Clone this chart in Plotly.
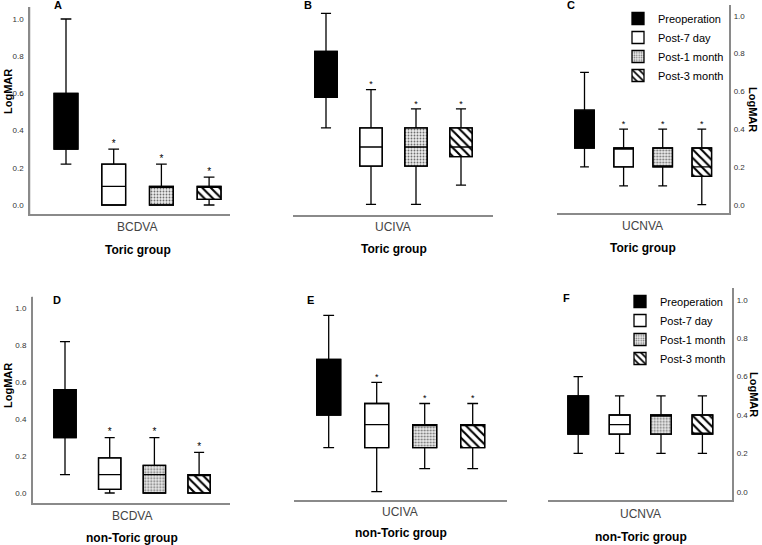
import plotly.graph_objects as go

W, H = 762, 545

# ---------------- data ----------------
series = ["Preoperation", "Post-7 day", "Post-1 month", "Post-3 month"]
panel_letters = ["A", "B", "C", "D", "E", "F"]
measures = ["BCDVA", "UCIVA", "UCNVA", "BCDVA", "UCIVA", "UCNVA"]
groups = ["Toric group", "Toric group", "Toric group",
          "non-Toric group", "non-Toric group", "non-Toric group"]
y_ticks = [0.0, 0.2, 0.4, 0.6, 0.8, 1.0]
y_tick_labels = ["0.0", "0.2", "0.4", "0.6", "0.8", "1.0"]

# A: Toric BCDVA
a_low = [0.22, 0.00, 0.00, 0.00]
a_q1 = [0.30, 0.00, 0.00, 0.03]
a_med = [0.45, 0.10, 0.10, 0.10]
a_q3 = [0.60, 0.22, 0.10, 0.10]
a_high = [1.00, 0.30, 0.22, 0.15]
a_star = [False, True, True, True]

# B: Toric UCIVA
b_low = [0.40, 0.00, 0.00, 0.10]
b_q1 = [0.56, 0.20, 0.20, 0.25]
b_med = [0.70, 0.30, 0.30, 0.30]
b_q3 = [0.80, 0.40, 0.40, 0.40]
b_high = [1.00, 0.60, 0.50, 0.50]
b_star = [False, True, True, True]

# C: Toric UCNVA
c_low = [0.20, 0.10, 0.10, 0.00]
c_q1 = [0.30, 0.20, 0.20, 0.15]
c_med = [0.40, 0.30, 0.20, 0.20]
c_q3 = [0.50, 0.30, 0.30, 0.30]
c_high = [0.70, 0.40, 0.40, 0.40]
c_star = [False, True, True, True]

# D: non-Toric BCDVA
d_low = [0.10, 0.00, 0.00, 0.00]
d_q1 = [0.30, 0.02, 0.00, 0.00]
d_med = [0.45, 0.10, 0.10, 0.10]
d_q3 = [0.56, 0.19, 0.15, 0.10]
d_high = [0.82, 0.30, 0.30, 0.22]
d_star = [False, True, True, True]

# E: non-Toric UCIVA
e_low = [0.23, 0.00, 0.12, 0.12]
e_q1 = [0.40, 0.23, 0.23, 0.23]
e_med = [0.55, 0.35, 0.35, 0.35]
e_q3 = [0.69, 0.46, 0.35, 0.35]
e_high = [0.92, 0.57, 0.46, 0.46]
e_star = [False, True, True, True]

# F: non-Toric UCNVA
f_low = [0.20, 0.20, 0.20, 0.20]
f_q1 = [0.30, 0.30, 0.30, 0.30]
f_med = [0.40, 0.35, 0.40, 0.30]
f_q3 = [0.50, 0.40, 0.40, 0.40]
f_high = [0.60, 0.50, 0.50, 0.50]
f_star = [False, False, False, False]

stats = [
    (a_low, a_q1, a_med, a_q3, a_high, a_star),
    (b_low, b_q1, b_med, b_q3, b_high, b_star),
    (c_low, c_q1, c_med, c_q3, c_high, c_star),
    (d_low, d_q1, d_med, d_q3, d_high, d_star),
    (e_low, e_q1, e_med, e_q3, e_high, e_star),
    (f_low, f_q1, f_med, f_q3, f_high, f_star),
]

# ---------------- styling / geometry (pixels) ----------------
FONT = "Arial, 'Liberation Sans', sans-serif"
NARROW = "'Liberation Sans Narrow', 'Arial Narrow', Arial, 'Liberation Sans', sans-serif"
AXIS_COLOR = "#8a8a8a"

fills = ["black", "white", "#ececec", "white"]
patterns = [
    None,
    None,
    dict(shape=".", fgcolor="#6e6e6e", bgcolor="#ececec", size=3, solidity=0.3),
    dict(shape="\\", fgcolor="black", bgcolor="white", size=6, solidity=0.35),
]

# xl/xr: x-axis line ends, c0: first box centre, dx: box spacing,
# yb/yt: plot bottom/top, y0/y1: pixel rows of LogMAR 0 and 1
geom = [
    dict(xl=30, xr=230, c0=66, dx=47.7, yb=214, yt=7, y0=205, y1=19, side="left"),
    dict(xl=293, xr=493, c0=326, dx=45, yb=215, yt=5, y0=204.3, y1=13.3, side=None),
    dict(xl=556.7, xr=729.3, c0=584.5, dx=39.1, yb=213, yt=5, y0=204.7, y1=15.7, side="right"),
    dict(xl=32.7, xr=230, c0=65, dx=44.7, yb=503.3, yt=296.7, y0=493, y1=308.3, side="left"),
    dict(xl=294.3, xr=506.7, c0=328.7, dx=48, yb=500, yt=288, y0=491.7, y1=300, side=None),
    dict(xl=548.3, xr=732.3, c0=578.2, dx=41.4, yb=500, yt=288.3, y0=491.7, y1=300, side="right"),
]

letter_pos = [(58, 5), (308, 5), (571, 5), (57, 300), (310, 300), (566, 298)]
measure_pos = [(137, 227), (393, 227), (642, 226), (132, 516), (400, 512), (640, 514)]
group_pos = [(138, 250), (394, 249), (643, 248), (132, 538), (401, 533), (641, 537)]
ytitle_pos = [(8, 92, -90), None, (753, 109, 90), (8, 386, -90), None, (754, 394, 90)]


def px(x):
    return x / W


def py(y):
    return 1 - y / H


def label(text, x, y, size, color="black", angle=0):
    return dict(text=text, x=px(x), y=py(y), xref="paper", yref="paper",
                xanchor="center", yanchor="middle", showarrow=False,
                textangle=angle, font=dict(size=size, color=color, family=FONT))


fig = go.Figure()
layout_axes = {}
annotations = []
shapes = []

for i, (low, q1, med, q3, high, star) in enumerate(stats):
    g = geom[i]
    suffix = "" if i == 0 else str(i + 1)
    xn, yn = "x" + suffix, "y" + suffix
    pu = g["y0"] - g["y1"]
    xr = [(g["xl"] - g["c0"]) / g["dx"], (g["xr"] - g["c0"]) / g["dx"]]
    yr = [-(g["yb"] - g["y0"]) / pu, 1 + (g["y1"] - g["yt"]) / pu]

    layout_axes["xaxis" + suffix] = dict(
        domain=[px(g["xl"]), px(g["xr"])], range=xr, anchor=yn,
        showline=True, linecolor=AXIS_COLOR, linewidth=1.5,
        showticklabels=False, ticks="", showgrid=False, zeroline=False,
        fixedrange=True,
    )
    yax = dict(
        domain=[py(g["yb"]), py(g["yt"])], range=yr, anchor=xn,
        showgrid=False, zeroline=False, fixedrange=True, ticks="",
    )
    if g["side"] is None:
        yax.update(showline=False, showticklabels=False)
    else:
        yax.update(side=g["side"], showline=True, linecolor=AXIS_COLOR, linewidth=1.5,
                   tickvals=y_ticks, ticktext=y_tick_labels,
                   tickfont=dict(size=8, color="#333333", family=FONT),
                   ticklabelstandoff=3 if g["side"] == "left" else 1)
        if g["side"] == "left":
            # vertical axis line along the left edge of the plot area (paper-referenced)
            shapes.append(dict(type="line", xref="paper", yref="paper",
                               x0=px(g["xl"] - 0.5), x1=px(g["xl"] - 0.5),
                               y0=py(g["yb"] + 0.75), y1=py(g["yt"]), layer="above",
                               line=dict(color=AXIS_COLOR, width=1.5)))
    layout_axes["yaxis" + suffix] = yax

    # box bodies (bars carry the fill patterns and the legend swatches)
    for j in range(4):
        marker = dict(color=fills[j], line=dict(color="black", width=1.3))
        if patterns[j] is not None:
            marker["pattern"] = patterns[j]
        fig.add_trace(go.Bar(
            x=[j], base=[q1[j]], y=[q3[j] - q1[j]], width=0.5,
            marker=marker, name=series[j],
            xaxis=xn, yaxis=yn,
            showlegend=(i in (2, 5)),
            legend="legend" if i < 3 else "legend2",
            hoverinfo="skip",
        ))
    # whiskers, caps and medians
    for j in range(4):
        fig.add_trace(go.Box(
            x=[j], q1=[q1[j]], median=[med[j]], q3=[q3[j]],
            lowerfence=[low[j]], upperfence=[high[j]],
            width=0.5, whiskerwidth=0.45,
            fillcolor="rgba(0,0,0,0)", line=dict(color="black", width=1.3),
            boxpoints=False, showlegend=False, name=series[j],
            xaxis=xn, yaxis=yn, hoverinfo="skip",
        ))
    # significance asterisks
    sx = [j for j in range(4) if star[j]]
    if sx:
        fig.add_trace(go.Scatter(
            x=sx, y=[high[j] for j in sx], mode="text", text=["*"] * len(sx),
            textposition="top center",
            textfont=dict(size=10 if g["side"] == "left" else 9, color="black", family=FONT),
            showlegend=False, xaxis=xn, yaxis=yn, cliponaxis=False, hoverinfo="skip",
        ))

    annotations.append(label("<b>%s</b>" % panel_letters[i], *letter_pos[i], 11))
    annotations.append(label(measures[i], *measure_pos[i], 12, color="#444444"))
    annotations.append(label("<b>%s</b>" % groups[i], *group_pos[i], 12))
    if ytitle_pos[i] is not None:
        tx, ty, ang = ytitle_pos[i]
        annotations.append(label("<b>LogMAR</b>", tx, ty, 11, angle=ang))

legend_style = dict(
    xanchor="left", yanchor="top", bgcolor="rgba(0,0,0,0)",
    font=dict(size=11, color="black", family=NARROW),
    tracegroupgap=0, itemclick=False, itemdoubleclick=False,
)

fig.update_layout(
    template="none",
    width=W, height=H, autosize=False,
    margin=dict(l=0, r=0, t=0, b=0),
    paper_bgcolor="white", plot_bgcolor="white",
    barmode="overlay",
    annotations=annotations,
    shapes=shapes,
    legend=dict(x=px(618), y=py(4), **legend_style),
    legend2=dict(x=px(620), y=py(287), **legend_style),
    **layout_axes,
)

fig.write_html(
    "out.html",
    config={"displayModeBar": False},
    post_script="document.body.style.margin='0';document.body.style.overflow='hidden';",
)
